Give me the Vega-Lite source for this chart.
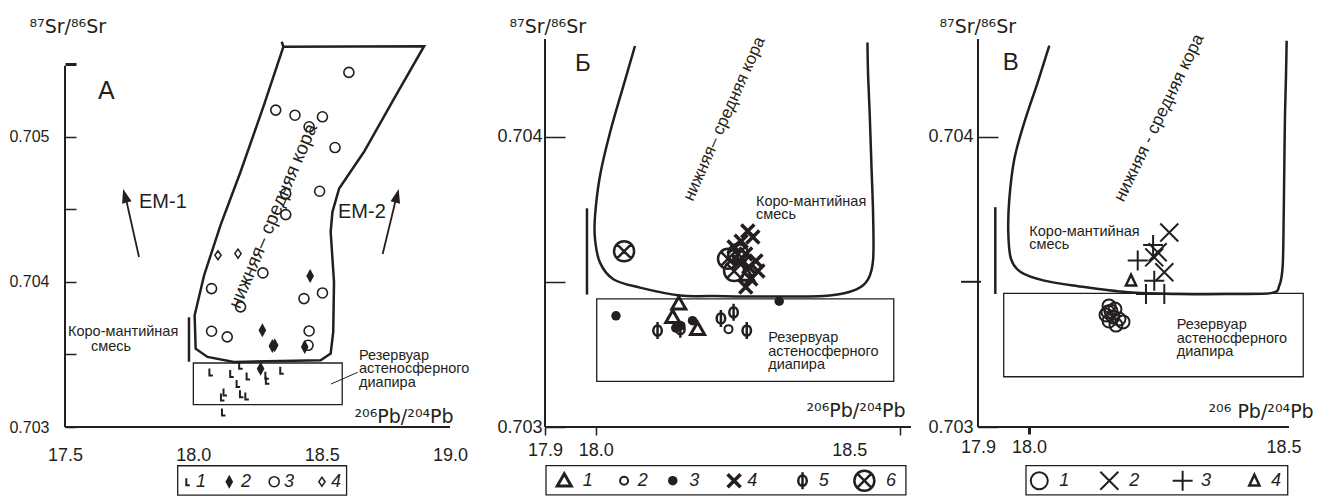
{
  "$schema": "https://vega.github.io/schema/vega-lite/v6.json",
  "padding": {"left": 8, "top": 17, "right": 2, "bottom": 0},
  "bounds": "flush",
  "spacing": 67,
  "config": {
    "view": {"stroke": null},
    "font": "Liberation Sans",
    "text": {"color": "#231f20", "font": "Liberation Sans"},
    "axis": {
      "domain": false, "grid": false,
      "labelColor": "#231f20", "tickColor": "#231f20", "titleColor": "#231f20",
      "titleFontWeight": "normal", "labelFont": "Liberation Sans", "titleFont": "DejaVu Sans",
      "labelFlush": false, "labelOverlap": false, "tickWidth": 1.5
    }
  },
  "datasets": {
    "polyA": [
      {"i": 1, "x": 18.344, "y": 0.705655}, {"i": 2, "x": 18.351, "y": 0.705621},
      {"i": 3, "x": 18.899, "y": 0.705625}, {"i": 4, "x": 18.782, "y": 0.705264},
      {"i": 5, "x": 18.665, "y": 0.704897}, {"i": 6, "x": 18.568, "y": 0.704644},
      {"i": 7, "x": 18.542, "y": 0.704483}, {"i": 8, "x": 18.535, "y": 0.704345},
      {"i": 9, "x": 18.548, "y": 0.704}, {"i": 10, "x": 18.545, "y": 0.703655},
      {"i": 11, "x": 18.535, "y": 0.703506}, {"i": 12, "x": 18.496, "y": 0.70346},
      {"i": 13, "x": 18.158, "y": 0.703448}, {"i": 14, "x": 18.055, "y": 0.703483},
      {"i": 15, "x": 18.009, "y": 0.70354}, {"i": 16, "x": 18.005, "y": 0.70377},
      {"i": 17, "x": 18.042, "y": 0.704046}, {"i": 18, "x": 18.106, "y": 0.704391},
      {"i": 19, "x": 18.184, "y": 0.704759}, {"i": 20, "x": 18.275, "y": 0.705218},
      {"i": 21, "x": 18.351, "y": 0.705621}
    ],
    "rectA": [
      {"x": 18.0, "x2": 18.58, "y": 0.703441, "y2": 0.703154},
      {"x": 17.939, "x2": 18.597, "y": 0.702733, "y2": 0.702531}
    ],
    "rulesA": [
      {"x": 17.5, "y": 0.703, "x2": 17.5, "y2": 0.70549, "k": "axis"},
      {"x": 17.5, "y": 0.703, "x2": 19.0, "y2": 0.703, "k": "axis"},
      {"x": 17.983, "y": 0.703756, "x2": 17.983, "y2": 0.70345, "k": "bar"},
      {"x": 17.7883, "y": 0.704172, "x2": 17.7376, "y2": 0.704571, "k": "arrow"},
      {"x": 18.7376, "y": 0.704192, "x2": 18.7894, "y2": 0.704571, "k": "arrow"},
      {"x": 18.5363, "y": 0.703296, "x2": 18.6404, "y2": 0.703377, "k": "lead"}
    ],
    "headsA": [
      {"x": 17.7337, "y": 0.704594, "a": -15},
      {"x": 18.7934, "y": 0.704594, "a": 14}
    ],
    "ptsA": [
      {"x": 18.068, "y": 0.703379, "t": "1"}, {"x": 18.149, "y": 0.703368, "t": "1"},
      {"x": 18.184, "y": 0.703425, "t": "1"}, {"x": 18.213, "y": 0.703352, "t": "1"},
      {"x": 18.174, "y": 0.703299, "t": "1"}, {"x": 18.286, "y": 0.703356, "t": "1"},
      {"x": 18.288, "y": 0.703322, "t": "1"}, {"x": 18.344, "y": 0.703391, "t": "1"},
      {"x": 18.123, "y": 0.703241, "t": "1"}, {"x": 18.113, "y": 0.703207, "t": "1"},
      {"x": 18.187, "y": 0.70323, "t": "1"}, {"x": 18.208, "y": 0.703214, "t": "1"},
      {"x": 18.117, "y": 0.703103, "t": "1"}, {"x": 17.978, "y": 0.702623, "t": "1"},
      {"x": 18.262, "y": 0.703402, "t": "2"}, {"x": 18.269, "y": 0.703667, "t": "2"},
      {"x": 18.308, "y": 0.703559, "t": "2"}, {"x": 18.317, "y": 0.703563, "t": "2"},
      {"x": 18.434, "y": 0.703552, "t": "2"}, {"x": 18.455, "y": 0.704041, "t": "2"},
      {"x": 18.14, "y": 0.702623, "t": "2"},
      {"x": 18.606, "y": 0.705444, "t": "3"}, {"x": 18.321, "y": 0.705184, "t": "3"},
      {"x": 18.396, "y": 0.705149, "t": "3"}, {"x": 18.503, "y": 0.705138, "t": "3"},
      {"x": 18.451, "y": 0.705069, "t": "3"}, {"x": 18.552, "y": 0.704926, "t": "3"},
      {"x": 18.36, "y": 0.704609, "t": "3"}, {"x": 18.492, "y": 0.704625, "t": "3"},
      {"x": 18.36, "y": 0.704464, "t": "3"}, {"x": 18.271, "y": 0.704062, "t": "3"},
      {"x": 18.071, "y": 0.703954, "t": "3"}, {"x": 18.184, "y": 0.703828, "t": "3"},
      {"x": 18.431, "y": 0.703885, "t": "3"}, {"x": 18.503, "y": 0.703924, "t": "3"},
      {"x": 18.071, "y": 0.70366, "t": "3"}, {"x": 18.132, "y": 0.703621, "t": "3"},
      {"x": 18.451, "y": 0.703662, "t": "3"}, {"x": 18.447, "y": 0.703563, "t": "3"},
      {"x": 18.315, "y": 0.702623, "t": "3"},
      {"x": 18.096, "y": 0.704184, "t": "4"}, {"x": 18.174, "y": 0.704195, "t": "4"},
      {"x": 18.501, "y": 0.702623, "t": "4"}
    ],
    "txtA": [
      {"x": 17.6286, "y": 0.705261, "s": "А", "k": "big"},
      {"x": 17.7883, "y": 0.704551, "s": "EM-1", "k": "em"},
      {"x": 18.5636, "y": 0.704482, "s": "EM-2", "k": "em"},
      {"x": 17.5117, "y": 0.703655, "s": "Коро-мантийная", "k": "lab"},
      {"x": 17.6013, "y": 0.703548, "s": "смесь", "k": "lab"},
      {"x": 18.6454, "y": 0.703492, "s": "Резервуар\nастеносферного\nдиапира", "k": "lab"},
      {"x": 18.3104, "y": 0.704454, "s": "нижняя– средняя кора", "k": "rot"},
      {"x": 18.0104, "y": 0.702623, "s": "1", "k": "leg"},
      {"x": 18.1857, "y": 0.702623, "s": "2", "k": "leg"},
      {"x": 18.3532, "y": 0.702623, "s": "3", "k": "leg"},
      {"x": 18.5363, "y": 0.702623, "s": "4", "k": "leg"}
    ],
    "polyB": [
      {"i": 1, "x": 18.0775, "y": 0.704312}, {"i": 2, "x": 18.0545, "y": 0.704174},
      {"i": 3, "x": 18.0283, "y": 0.704014}, {"i": 4, "x": 18.0085, "y": 0.703865},
      {"i": 5, "x": 17.9987, "y": 0.703727}, {"i": 6, "x": 17.9987, "y": 0.703646},
      {"i": 7, "x": 18.0085, "y": 0.703566}, {"i": 8, "x": 18.0348, "y": 0.703509},
      {"i": 9, "x": 18.0874, "y": 0.70348}, {"i": 10, "x": 18.1662, "y": 0.703453},
      {"i": 11, "x": 18.2319, "y": 0.703451}, {"i": 12, "x": 18.3633, "y": 0.703449},
      {"i": 13, "x": 18.4619, "y": 0.703453}, {"i": 14, "x": 18.5145, "y": 0.703474},
      {"i": 15, "x": 18.5375, "y": 0.703509}, {"i": 16, "x": 18.5473, "y": 0.703577},
      {"i": 17, "x": 18.5473, "y": 0.703727}, {"i": 18, "x": 18.544, "y": 0.703899},
      {"i": 19, "x": 18.5407, "y": 0.704071}, {"i": 20, "x": 18.5374, "y": 0.704209},
      {"i": 21, "x": 18.5361, "y": 0.704324}
    ],
    "rectB": [
      {"x": 18.002, "x2": 18.588, "y": 0.703441, "y2": 0.703157},
      {"x": 17.902, "x2": 18.612, "y": 0.702867, "y2": 0.702766}
    ],
    "rulesB": [
      {"x": 17.9, "y": 0.703, "x2": 17.9, "y2": 0.704336, "k": "axis"},
      {"x": 17.9, "y": 0.703, "x2": 18.622, "y2": 0.703, "k": "axis"},
      {"x": 17.9828, "y": 0.703753, "x2": 17.9828, "y2": 0.703456, "k": "bar"}
    ],
    "ptsB": [
      {"x": 18.164, "y": 0.703424, "t": "1"}, {"x": 18.152, "y": 0.703378, "t": "1"},
      {"x": 18.201, "y": 0.703337, "t": "1"}, {"x": 18.298, "y": 0.703523, "t": "1"},
      {"x": 17.938, "y": 0.702815, "t": "1"},
      {"x": 18.262, "y": 0.703337, "t": "2"}, {"x": 18.056, "y": 0.702815, "t": "2"},
      {"x": 18.04, "y": 0.703383, "t": "3"}, {"x": 18.362, "y": 0.703433, "t": "3"},
      {"x": 18.168, "y": 0.703349, "t": "3"}, {"x": 18.191, "y": 0.703366, "t": "3"},
      {"x": 18.158, "y": 0.703341, "t": "3"}, {"x": 18.152, "y": 0.702815, "t": "3"},
      {"x": 18.3, "y": 0.703675, "t": "4"}, {"x": 18.31, "y": 0.703654, "t": "4"},
      {"x": 18.287, "y": 0.70364, "t": "4"}, {"x": 18.273, "y": 0.70362, "t": "4"},
      {"x": 18.296, "y": 0.703596, "t": "4"}, {"x": 18.316, "y": 0.703572, "t": "4"},
      {"x": 18.302, "y": 0.703551, "t": "4"}, {"x": 18.32, "y": 0.703537, "t": "4"},
      {"x": 18.306, "y": 0.70351, "t": "4"}, {"x": 18.296, "y": 0.703482, "t": "4"},
      {"x": 18.283, "y": 0.703568, "t": "4"}, {"x": 18.273, "y": 0.702815, "t": "4"},
      {"x": 18.122, "y": 0.703332, "t": "5"}, {"x": 18.167, "y": 0.703337, "t": "5"},
      {"x": 18.247, "y": 0.703374, "t": "5"}, {"x": 18.272, "y": 0.703395, "t": "5"},
      {"x": 18.298, "y": 0.703332, "t": "5"}, {"x": 18.408, "y": 0.702815, "t": "5"},
      {"x": 18.056, "y": 0.703605, "t": "6"}, {"x": 18.261, "y": 0.703579, "t": "6"},
      {"x": 18.273, "y": 0.703537, "t": "6"}, {"x": 18.281, "y": 0.703596, "t": "6"},
      {"x": 18.53, "y": 0.702815, "t": "6"}
    ],
    "txtB": [
      {"x": 17.9592, "y": 0.704227, "s": "Б", "k": "big"},
      {"x": 18.3162, "y": 0.703776, "s": "Коро-мантийная\nсмесь", "k": "lab"},
      {"x": 18.3404, "y": 0.703305, "s": "Резервуар\nастеносферного\nдиапира", "k": "lab"},
      {"x": 18.2537, "y": 0.704061, "s": "нижняя– средняя кора", "k": "rot"},
      {"x": 17.9744, "y": 0.702815, "s": "1", "k": "leg"},
      {"x": 18.0828, "y": 0.702815, "s": "2", "k": "leg"},
      {"x": 18.1847, "y": 0.702815, "s": "3", "k": "leg"},
      {"x": 18.2989, "y": 0.702815, "s": "4", "k": "leg"},
      {"x": 18.44, "y": 0.702815, "s": "5", "k": "leg"},
      {"x": 18.5726, "y": 0.702815, "s": "6", "k": "leg"}
    ],
    "polyC": [
      {"i": 1, "x": 18.0401, "y": 0.704313}, {"i": 2, "x": 18.0173, "y": 0.704187},
      {"i": 3, "x": 17.991, "y": 0.704049}, {"i": 4, "x": 17.9714, "y": 0.703923},
      {"i": 5, "x": 17.9615, "y": 0.703785}, {"i": 6, "x": 17.9595, "y": 0.70367},
      {"i": 7, "x": 17.9648, "y": 0.703579}, {"i": 8, "x": 17.9845, "y": 0.703533},
      {"i": 9, "x": 18.0303, "y": 0.703504}, {"i": 10, "x": 18.0959, "y": 0.703485},
      {"i": 11, "x": 18.1941, "y": 0.703464}, {"i": 12, "x": 18.2923, "y": 0.703458},
      {"i": 13, "x": 18.3906, "y": 0.703458}, {"i": 14, "x": 18.4756, "y": 0.703461},
      {"i": 15, "x": 18.492, "y": 0.703487}, {"i": 16, "x": 18.4986, "y": 0.703555},
      {"i": 17, "x": 18.5006, "y": 0.703728}, {"i": 18, "x": 18.5018, "y": 0.7039},
      {"i": 19, "x": 18.5031, "y": 0.704072}, {"i": 20, "x": 18.5051, "y": 0.70421},
      {"i": 21, "x": 18.5064, "y": 0.70433}
    ],
    "rectC": [
      {"x": 17.9505, "x2": 18.539, "y": 0.70346, "y2": 0.703173},
      {"x": 17.9943, "x2": 18.5085, "y": 0.702867, "y2": 0.702766}
    ],
    "rulesC": [
      {"x": 17.9, "y": 0.703, "x2": 17.9, "y2": 0.704336, "k": "axis"},
      {"x": 17.9, "y": 0.703, "x2": 18.511, "y2": 0.703, "k": "axis"},
      {"x": 17.8666, "y": 0.7035, "x2": 17.9059, "y2": 0.7035, "k": "axis"},
      {"x": 17.934, "y": 0.703757, "x2": 17.934, "y2": 0.703458, "k": "bar"}
    ],
    "ptsC": [
      {"x": 18.1574, "y": 0.703417, "t": "1"}, {"x": 18.1613, "y": 0.703399, "t": "1"},
      {"x": 18.1515, "y": 0.703386, "t": "1"}, {"x": 18.1652, "y": 0.703379, "t": "1"},
      {"x": 18.177, "y": 0.703372, "t": "1"}, {"x": 18.1849, "y": 0.703362, "t": "1"},
      {"x": 18.1574, "y": 0.703365, "t": "1"}, {"x": 18.1711, "y": 0.703351, "t": "1"},
      {"x": 18.1554, "y": 0.703396, "t": "1"}, {"x": 18.1691, "y": 0.703406, "t": "1"},
      {"x": 18.0204, "y": 0.702815, "t": "1L"},
      {"x": 18.2758, "y": 0.70367, "t": "2"}, {"x": 18.253, "y": 0.703602, "t": "2"},
      {"x": 18.2463, "y": 0.703584, "t": "2"}, {"x": 18.266, "y": 0.703533, "t": "2"},
      {"x": 18.158, "y": 0.702815, "t": "2"},
      {"x": 18.2138, "y": 0.703573, "t": "3"}, {"x": 18.2463, "y": 0.703504, "t": "3"},
      {"x": 18.23, "y": 0.703458, "t": "3"}, {"x": 18.266, "y": 0.703458, "t": "3"},
      {"x": 18.244, "y": 0.703627, "t": "3"}, {"x": 18.302, "y": 0.702815, "t": "3"},
      {"x": 18.2006, "y": 0.703504, "t": "4"}, {"x": 18.443, "y": 0.702815, "t": "4"}
    ],
    "txtC": [
      {"x": 17.9485, "y": 0.70423, "s": "В", "k": "big"},
      {"x": 18.0008, "y": 0.703672, "s": "Коро-мантийная\nсмесь", "k": "lab"},
      {"x": 18.2904, "y": 0.703351, "s": "Резервуар\nастеносферного\nдиапира", "k": "lab"},
      {"x": 18.2562, "y": 0.704064, "s": "нижняя - средняя кора", "k": "rot"},
      {"x": 18.0598, "y": 0.702815, "s": "1", "k": "leg"},
      {"x": 18.1973, "y": 0.702815, "s": "2", "k": "leg"},
      {"x": 18.3381, "y": 0.702815, "s": "3", "k": "leg"},
      {"x": 18.4756, "y": 0.702815, "s": "4", "k": "leg"}
    ]
  },
  "hconcat": [
    {
      "width": 413,
      "height": 399,
      "encoding": {
        "x": {"field": "x", "type": "quantitative",
          "scale": {"domain": [17.5, 19.109], "nice": false, "zero": false},
          "axis": {"values": [17.5, 18, 18.5, 19], "format": ".1f", "ticks": false, "tickSize": 0,
            "labelPadding": 19, "labelFontSize": 18,
            "title": "²⁰⁶Pb/²⁰⁴Pb", "titleFontSize": 19, "titleX": 289, "titleY": -5,
            "titleAlign": "left", "titleBaseline": "alphabetic"}},
        "y": {"field": "y", "type": "quantitative",
          "scale": {"domain": [0.703, 0.70575], "nice": false, "zero": false},
          "axis": {"values": [0.703, 0.7035, 0.704, 0.7045, 0.705, 0.7055],
            "labelExpr": "abs(datum.value*1000 - round(datum.value*1000)) > 0.01 ? '' : format(datum.value, '.3f')",
            "tickSize": -11, "tickWidth": {"condition": {"test": "datum.value > 0.70549", "value": 3}, "value": 1.5},
            "labelPadding": 27, "labelFontSize": 16,
            "title": "⁸⁷Sr/⁸⁶Sr", "titleFontSize": 19, "titleAngle": 0, "titleX": -36, "titleY": 4,
            "titleAlign": "left", "titleBaseline": "alphabetic"}}
      },
      "layer": [
        {"data": {"name": "rectA"}, "mark": {"type": "rect", "filled": false, "color": "#231f20", "strokeWidth": 1.3},
          "encoding": {"x2": {"field": "x2"}, "y2": {"field": "y2"}}},
        {"data": {"name": "rulesA"}, "transform": [{"filter": "datum.k == 'axis'"}],
          "mark": {"type": "rule", "color": "#231f20", "strokeWidth": 2},
          "encoding": {"x2": {"field": "x2"}, "y2": {"field": "y2"}}},
        {"data": {"name": "rulesA"}, "transform": [{"filter": "datum.k == 'bar'"}],
          "mark": {"type": "rule", "color": "#231f20", "strokeWidth": 2.5},
          "encoding": {"x2": {"field": "x2"}, "y2": {"field": "y2"}}},
        {"data": {"name": "rulesA"}, "transform": [{"filter": "datum.k == 'arrow'"}],
          "mark": {"type": "rule", "color": "#231f20", "strokeWidth": 1.8},
          "encoding": {"x2": {"field": "x2"}, "y2": {"field": "y2"}}},
        {"data": {"name": "rulesA"}, "transform": [{"filter": "datum.k == 'lead'"}],
          "mark": {"type": "rule", "color": "#231f20", "strokeWidth": 1},
          "encoding": {"x2": {"field": "x2"}, "y2": {"field": "y2"}}},
        {"data": {"name": "polyA"}, "mark": {"type": "line", "color": "#231f20", "strokeWidth": 2.5},
          "encoding": {"order": {"field": "i", "type": "quantitative"}}},
        {"data": {"name": "headsA"},
          "mark": {"type": "point", "shape": "M0 -1L0.7 1L-0.7 1Z", "filled": true, "color": "#231f20", "opacity": 1, "size": 196},
          "encoding": {"angle": {"field": "a", "type": "quantitative", "scale": null}}},
        {"data": {"name": "ptsA"}, "transform": [{"filter": "datum.t == '1'"}],
          "mark": {"type": "point", "shape": "M-0.4 -1L-0.4 1L0.6 1", "filled": false, "color": "#231f20", "opacity": 1, "size": 49, "strokeWidth": 2}},
        {"data": {"name": "ptsA"}, "transform": [{"filter": "datum.t == '2'"}],
          "mark": {"type": "point", "shape": "M0 -1L0.55 0L0 1L-0.55 0Z", "filled": true, "color": "#231f20", "opacity": 1, "size": 196}},
        {"data": {"name": "ptsA"}, "transform": [{"filter": "datum.t == '3'"}],
          "mark": {"type": "point", "shape": "circle", "filled": false, "color": "#231f20", "opacity": 1, "size": 100, "strokeWidth": 1.6}},
        {"data": {"name": "ptsA"}, "transform": [{"filter": "datum.t == '4'"}],
          "mark": {"type": "point", "shape": "M0 -1L0.7 0L0 1L-0.7 0Z", "filled": false, "color": "#231f20", "opacity": 1, "size": 81, "strokeWidth": 1.5}},
        {"data": {"name": "txtA"}, "transform": [{"filter": "datum.k == 'lab'"}],
          "mark": {"type": "text", "fontSize": 14.5, "align": "left", "baseline": "middle", "lineBreak": "\n", "lineHeight": 13.5},
          "encoding": {"text": {"field": "s"}}},
        {"data": {"name": "txtA"}, "transform": [{"filter": "datum.k == 'big'"}],
          "mark": {"type": "text", "fontSize": 25, "align": "left", "baseline": "alphabetic"},
          "encoding": {"text": {"field": "s"}}},
        {"data": {"name": "txtA"}, "transform": [{"filter": "datum.k == 'em'"}],
          "mark": {"type": "text", "fontSize": 20, "align": "left", "baseline": "middle"},
          "encoding": {"text": {"field": "s"}}},
        {"data": {"name": "txtA"}, "transform": [{"filter": "datum.k == 'rot'"}],
          "mark": {"type": "text", "fontSize": 19, "align": "center", "baseline": "middle", "angle": 293},
          "encoding": {"text": {"field": "s"}}},
        {"data": {"name": "txtA"}, "transform": [{"filter": "datum.k == 'leg'"}],
          "mark": {"type": "text", "fontSize": 18, "fontStyle": "italic", "align": "left", "baseline": "middle"},
          "encoding": {"text": {"field": "s"}}}
      ]
    },
    {
      "width": 366,
      "height": 399,
      "encoding": {
        "x": {"field": "x", "type": "quantitative",
          "scale": {"domain": [17.9, 18.622], "nice": false, "zero": false},
          "axis": {"values": [17.9, 18, 18.5, 18.6],
            "labelExpr": "datum.value > 18.55 ? '' : format(datum.value, '.1f')",
            "tickSize": 8, "tickOpacity": {"condition": {"test": "datum.value == 18.5", "value": 0}, "value": 1},
            "labelPadding": 6, "labelFontSize": 18,
            "title": "²⁰⁶Pb/²⁰⁴Pb", "titleFontSize": 19, "titleX": 261, "titleY": -11,
            "titleAlign": "left", "titleBaseline": "alphabetic"}},
        "y": {"field": "y", "type": "quantitative",
          "scale": {"domain": [0.703, 0.704374], "nice": false, "zero": false},
          "axis": {"values": [0.703, 0.7035, 0.704],
            "labelExpr": "abs(datum.value*1000 - round(datum.value*1000)) > 0.01 ? '' : format(datum.value, '.3f')",
            "tickSize": -20, "labelPadding": 23, "labelFontSize": 18,
            "title": "⁸⁷Sr/⁸⁶Sr", "titleFontSize": 19, "titleAngle": 0, "titleX": -36, "titleY": 4,
            "titleAlign": "left", "titleBaseline": "alphabetic"}}
      },
      "layer": [
        {"data": {"name": "rectB"}, "mark": {"type": "rect", "filled": false, "color": "#231f20", "strokeWidth": 1.3},
          "encoding": {"x2": {"field": "x2"}, "y2": {"field": "y2"}}},
        {"data": {"name": "rulesB"}, "transform": [{"filter": "datum.k == 'axis'"}],
          "mark": {"type": "rule", "color": "#231f20", "strokeWidth": 2},
          "encoding": {"x2": {"field": "x2"}, "y2": {"field": "y2"}}},
        {"data": {"name": "rulesB"}, "transform": [{"filter": "datum.k == 'bar'"}],
          "mark": {"type": "rule", "color": "#231f20", "strokeWidth": 2.5},
          "encoding": {"x2": {"field": "x2"}, "y2": {"field": "y2"}}},
        {"data": {"name": "polyB"}, "mark": {"type": "line", "color": "#231f20", "strokeWidth": 2.5, "interpolate": "cardinal"},
          "encoding": {"order": {"field": "i", "type": "quantitative"}}},
        {"data": {"name": "ptsB"}, "transform": [{"filter": "datum.t == '6'"}],
          "mark": {"type": "point", "shape": "M1 0A1 1 0 1 1 -1 0A1 1 0 1 1 1 0M-0.7 -0.7L0.7 0.7M-0.7 0.7L0.7 -0.7", "filled": false, "color": "#231f20", "opacity": 1, "size": 400, "strokeWidth": 2.5}},
        {"data": {"name": "ptsB"}, "transform": [{"filter": "datum.t == '4'"}],
          "mark": {"type": "point", "shape": "M-1 -1L1 1M-1 1L1 -1", "filled": false, "color": "#231f20", "opacity": 1, "size": 169, "strokeWidth": 3.5}},
        {"data": {"name": "ptsB"}, "transform": [{"filter": "datum.t == '1'"}],
          "mark": {"type": "point", "shape": "M0 -1L1 0.75L-1 0.75Z", "filled": false, "color": "#231f20", "opacity": 1, "size": 196, "strokeWidth": 3}},
        {"data": {"name": "ptsB"}, "transform": [{"filter": "datum.t == '2'"}],
          "mark": {"type": "point", "shape": "circle", "filled": false, "color": "#231f20", "opacity": 1, "size": 64, "strokeWidth": 2}},
        {"data": {"name": "ptsB"}, "transform": [{"filter": "datum.t == '3'"}],
          "mark": {"type": "point", "shape": "circle", "filled": true, "color": "#231f20", "opacity": 1, "size": 90}},
        {"data": {"name": "ptsB"}, "transform": [{"filter": "datum.t == '5'"}],
          "mark": {"type": "point", "shape": "M0 -1L0 1M0.5 0A0.5 0.6 0 1 1 -0.5 0A0.5 0.6 0 1 1 0.5 0", "filled": false, "color": "#231f20", "opacity": 1, "size": 289, "strokeWidth": 2.5}},
        {"data": {"name": "txtB"}, "transform": [{"filter": "datum.k == 'lab'"}],
          "mark": {"type": "text", "fontSize": 14.5, "align": "left", "baseline": "middle", "lineBreak": "\n", "lineHeight": 13.5},
          "encoding": {"text": {"field": "s"}}},
        {"data": {"name": "txtB"}, "transform": [{"filter": "datum.k == 'big'"}],
          "mark": {"type": "text", "fontSize": 24, "align": "left", "baseline": "alphabetic"},
          "encoding": {"text": {"field": "s"}}},
        {"data": {"name": "txtB"}, "transform": [{"filter": "datum.k == 'rot'"}],
          "mark": {"type": "text", "fontSize": 17, "align": "center", "baseline": "middle", "angle": 294},
          "encoding": {"text": {"field": "s"}}},
        {"data": {"name": "txtB"}, "transform": [{"filter": "datum.k == 'leg'"}],
          "mark": {"type": "text", "fontSize": 18, "fontStyle": "italic", "align": "left", "baseline": "middle"},
          "encoding": {"text": {"field": "s"}}}
      ]
    },
    {
      "width": 311,
      "height": 399,
      "encoding": {
        "x": {"field": "x", "type": "quantitative",
          "scale": {"domain": [17.9, 18.511], "nice": false, "zero": false},
          "axis": {"values": [17.9, 18, 18.5], "format": ".1f",
            "tickSize": 7, "tickWidth": 3, "tickOpacity": {"condition": {"test": "datum.value == 18", "value": 1}, "value": 0},
            "labelPadding": 4, "labelFontSize": 18,
            "title": "²⁰⁶ Pb/²⁰⁴Pb", "titleFontSize": 19, "titleX": 230, "titleY": -10,
            "titleAlign": "left", "titleBaseline": "alphabetic"}},
        "y": {"field": "y", "type": "quantitative",
          "scale": {"domain": [0.703, 0.704374], "nice": false, "zero": false},
          "axis": {"values": [0.703, 0.704], "format": ".3f",
            "tickSize": -20, "labelPadding": 25, "labelFontSize": 18,
            "title": "⁸⁷Sr/⁸⁶Sr", "titleFontSize": 19, "titleAngle": 0, "titleX": -39, "titleY": 4,
            "titleAlign": "left", "titleBaseline": "alphabetic"}}
      },
      "layer": [
        {"data": {"name": "rectC"}, "mark": {"type": "rect", "filled": false, "color": "#231f20", "strokeWidth": 1.3},
          "encoding": {"x2": {"field": "x2"}, "y2": {"field": "y2"}}},
        {"data": {"name": "rulesC"}, "transform": [{"filter": "datum.k == 'axis'"}],
          "mark": {"type": "rule", "color": "#231f20", "strokeWidth": 2},
          "encoding": {"x2": {"field": "x2"}, "y2": {"field": "y2"}}},
        {"data": {"name": "rulesC"}, "transform": [{"filter": "datum.k == 'bar'"}],
          "mark": {"type": "rule", "color": "#231f20", "strokeWidth": 2.5},
          "encoding": {"x2": {"field": "x2"}, "y2": {"field": "y2"}}},
        {"data": {"name": "polyC"}, "mark": {"type": "line", "color": "#231f20", "strokeWidth": 2.5, "interpolate": "cardinal"},
          "encoding": {"order": {"field": "i", "type": "quantitative"}}},
        {"data": {"name": "ptsC"}, "transform": [{"filter": "datum.t == '1'"}],
          "mark": {"type": "point", "shape": "circle", "filled": false, "color": "#231f20", "opacity": 1, "size": 169, "strokeWidth": 2}},
        {"data": {"name": "ptsC"}, "transform": [{"filter": "datum.t == '1L'"}],
          "mark": {"type": "point", "shape": "circle", "filled": false, "color": "#231f20", "opacity": 1, "size": 289, "strokeWidth": 2}},
        {"data": {"name": "ptsC"}, "transform": [{"filter": "datum.t == '2'"}],
          "mark": {"type": "point", "shape": "M-1 -1L1 1M-1 1L1 -1", "filled": false, "color": "#231f20", "opacity": 1, "size": 324, "strokeWidth": 2}},
        {"data": {"name": "ptsC"}, "transform": [{"filter": "datum.t == '3'"}],
          "mark": {"type": "point", "shape": "M-1 0L1 0M0 -1L0 1", "filled": false, "color": "#231f20", "opacity": 1, "size": 400, "strokeWidth": 2}},
        {"data": {"name": "ptsC"}, "transform": [{"filter": "datum.t == '4'"}],
          "mark": {"type": "point", "shape": "M0 -1L0.85 0.8L-0.85 0.8Z", "filled": false, "color": "#231f20", "opacity": 1, "size": 144, "strokeWidth": 2.5}},
        {"data": {"name": "txtC"}, "transform": [{"filter": "datum.k == 'lab'"}],
          "mark": {"type": "text", "fontSize": 14.5, "align": "left", "baseline": "middle", "lineBreak": "\n", "lineHeight": 13.5},
          "encoding": {"text": {"field": "s"}}},
        {"data": {"name": "txtC"}, "transform": [{"filter": "datum.k == 'big'"}],
          "mark": {"type": "text", "fontSize": 24, "align": "left", "baseline": "alphabetic"},
          "encoding": {"text": {"field": "s"}}},
        {"data": {"name": "txtC"}, "transform": [{"filter": "datum.k == 'rot'"}],
          "mark": {"type": "text", "fontSize": 17.5, "align": "center", "baseline": "middle", "angle": 296},
          "encoding": {"text": {"field": "s"}}},
        {"data": {"name": "txtC"}, "transform": [{"filter": "datum.k == 'leg'"}],
          "mark": {"type": "text", "fontSize": 18, "fontStyle": "italic", "align": "left", "baseline": "middle"},
          "encoding": {"text": {"field": "s"}}}
      ]
    }
  ]
}
